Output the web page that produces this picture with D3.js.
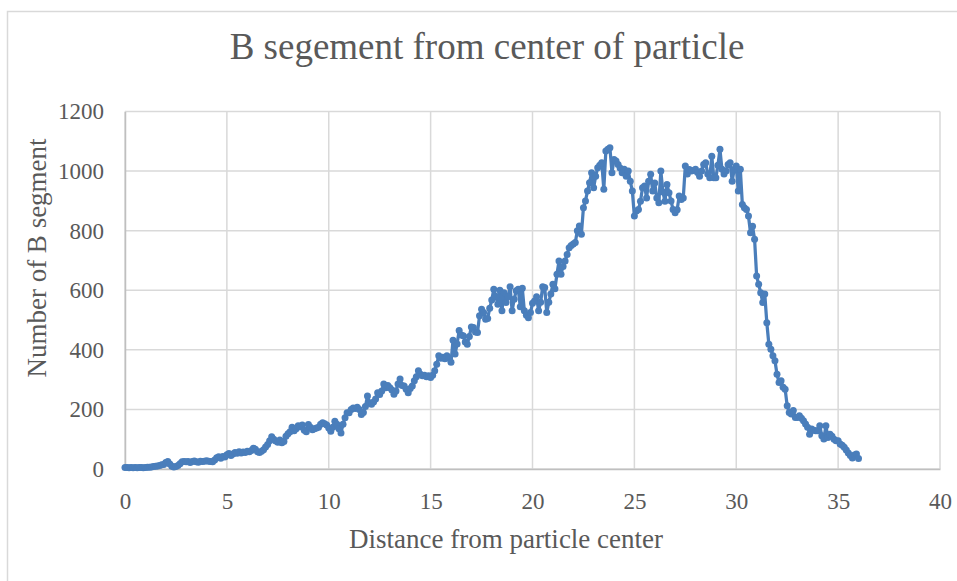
<!DOCTYPE html>
<html>
<head>
<meta charset="utf-8">
<script src="https://cdn.jsdelivr.net/npm/d3@7"></script>
<style>
  html, body { margin: 0; padding: 0; background: #fff; }
  svg { display: block; font-family: "Liberation Serif", "Times New Roman", serif; }
</style>
</head>
<body>
<svg id="chart" width="957" height="581"></svg>
<script>
// distance bins start at 0 and go up by 0.1
const xStart = 0, xStep = 0.1;
// number of B segments in each bin
const counts = [
  5, 5, 4, 5, 4, 5, 4, 5, 5, 4,
  5, 6, 6, 7, 8, 9, 10, 12, 14, 15,
  22, 25, 17, 9, 7, 8, 12, 18, 24, 25,
  24, 25, 22, 25, 27, 24, 23, 26, 25, 26,
  28, 26, 25, 24, 30, 38, 41, 36, 42, 40,
  48, 52, 45, 50, 55, 53, 58, 54, 57, 55,
  60, 58, 62, 70, 66, 58, 55, 60, 65, 74,
  82, 95, 108, 100, 94, 90, 97, 88, 92, 110,
  118, 125, 140, 128, 135, 145, 142, 148, 130, 125,
  149, 140, 132, 135, 138, 140, 150, 155, 152, 148,
  138, 127, 140, 160, 150, 135, 121, 150, 172, 189,
  189, 200, 205, 203, 207, 200, 183, 190, 210, 245,
  222, 217, 225, 235, 256, 250, 262, 285, 273, 280,
  273, 265, 251, 262, 285, 302, 280, 279, 268, 256,
  270, 279, 296, 310, 330, 318, 313, 315, 310, 313,
  307, 315, 330, 352, 380, 372, 375, 370, 380, 372,
  358, 432, 386, 420, 465, 450, 447, 426, 419, 445,
  477, 475, 460, 458, 514, 536, 525, 503, 505, 540,
  567, 603, 580, 553, 600, 531, 592, 559, 578, 612,
  531, 570, 598, 603, 545, 607, 531, 516, 508, 525,
  556, 564, 578, 531, 560, 612, 609, 525, 560, 587,
  620, 605, 654, 698, 654, 680, 698, 720, 743, 750,
  755, 760, 800, 816, 788, 877, 900, 933, 961, 994,
  944, 983, 1011, 1020, 1028, 939, 1067, 1073, 1078, 994,
  1039, 1034, 1022, 1010, 994, 1006, 983, 1000, 966, 933,
  849, 866, 871, 899, 944, 950, 910, 966, 989, 933,
  960, 910, 894, 1000, 930, 899, 955, 927, 900, 871,
  860, 870, 916, 905, 910, 1017, 990, 1005, 1000, 1002,
  1006, 995, 983, 1000, 1022, 1028, 990, 978, 1050, 978,
  978, 1020, 1073, 1006, 990, 1000, 1022, 1028, 966, 1006,
  1017, 933, 1006, 888, 877, 871, 849, 793, 815, 771,
  648, 620, 592, 559, 587, 491, 419, 402, 380, 363,
  318, 290, 296, 274, 268, 212, 190, 185, 196, 173,
  173, 179, 170, 162, 151, 140, 117, 134, 130, 128,
  128, 145, 112, 101, 145, 106, 117, 110, 100, 95,
  95, 84, 80, 73, 64, 54, 45, 37, 47, 50,
  35
];
const xTicks = [0, 5, 10, 15, 20, 25, 30, 35, 40];
const yTicks = [0, 200, 400, 600, 800, 1000, 1200];
const title = "B segement from center of particle";
const xTitle = "Distance from particle center";
const yTitle = "Number of B segment";

const svg = d3.select("#chart");
const plotL = 125, plotR = 940, plotT = 111.5, plotB = 469;
const blue = "#4a7ebb";

const x = d3.scaleLinear().domain([0, 40]).range([plotL, plotR]);
const y = d3.scaleLinear().domain([0, 1200]).range([plotB, plotT]);

const points = counts.map((v, i) => ({ d: xStart + i * xStep, n: v }));

// outer chart frame
svg.append("rect")
  .attr("x", 7.5).attr("y", 11.5)
  .attr("width", 1000).attr("height", 1000)
  .attr("fill", "none").attr("stroke", "#d9d9d9").attr("stroke-width", 1.5);

svg.append("text")
  .attr("x", 487).attr("y", 59)
  .attr("text-anchor", "middle")
  .attr("font-size", 37).attr("fill", "#595959")
  .text(title);

// gridlines
svg.append("g")
  .selectAll("line").data(xTicks).join("line")
  .attr("x1", d => x(d)).attr("x2", d => x(d))
  .attr("y1", plotT).attr("y2", plotB)
  .attr("stroke", "#d9d9d9").attr("stroke-width", 1.5);
svg.append("g")
  .selectAll("line").data(yTicks).join("line")
  .attr("x1", plotL).attr("x2", plotR)
  .attr("y1", d => y(d)).attr("y2", d => y(d))
  .attr("stroke", "#d9d9d9").attr("stroke-width", 1.5);

// axes
const xAxis = svg.append("g")
  .attr("transform", `translate(0,${plotB})`)
  .call(d3.axisBottom(x).tickValues(xTicks).tickSize(0).tickPadding(24));
const yAxis = svg.append("g")
  .attr("transform", `translate(${plotL},0)`)
  .call(d3.axisLeft(y).tickValues(yTicks).tickFormat(d3.format("d")).tickSize(0).tickPadding(21));
[xAxis, yAxis].forEach(a => {
  a.select(".domain").attr("stroke", "#bfbfbf").attr("stroke-width", 1.5);
  a.selectAll("text")
    .attr("font-family", "Liberation Serif, Times New Roman, serif")
    .attr("font-size", 23).attr("fill", "#595959");
});

// series
svg.append("path")
  .datum(points)
  .attr("fill", "none")
  .attr("stroke", blue).attr("stroke-width", 3.25)
  .attr("stroke-linejoin", "round")
  .attr("d", d3.line().x(p => x(p.d)).y(p => y(p.n)));
svg.append("g")
  .selectAll("circle").data(points).join("circle")
  .attr("cx", p => x(p.d)).attr("cy", p => y(p.n))
  .attr("r", 3.5).attr("fill", blue);

svg.append("text")
  .attr("x", 506).attr("y", 548)
  .attr("text-anchor", "middle")
  .attr("font-size", 27).attr("fill", "#595959")
  .text(xTitle);
svg.append("text")
  .attr("transform", "translate(46,258) rotate(-90)")
  .attr("text-anchor", "middle")
  .attr("font-size", 27).attr("fill", "#595959")
  .text(yTitle);
</script>
</body>
</html>
